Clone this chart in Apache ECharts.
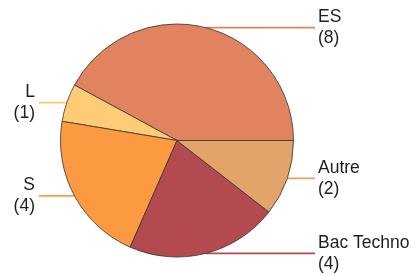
<!DOCTYPE html>
<html>
<head>
    <meta charset="utf-8">
    <title>Pie</title>
    <script src="https://cdn.jsdelivr.net/npm/echarts@6/dist/echarts.min.js"></script>
    <style>
        html, body { margin: 0; padding: 0; background: #fff; }
        #chart1 { width: 416px; height: 275px; }
    </style>
</head>
<body>
<div id="chart1"></div>
<script>
    // données
    var categories = ['ES', 'L', 'S', 'Bac Techno', 'Autre'];
    var counts = [8, 1, 4, 4, 2];
    var colors = ['#E0835E', '#FECC76', '#FC9A42', '#B24A4F', '#E2A468'];

    var cx = 177, cy = 140.5;
    // bout des traits de légende, à gauche et à droite
    var lineLeftX = 39, lineRightX = 315;

    var pieData = categories.map(function (name, i) {
        return {
            name: name,
            value: counts[i],
            itemStyle: { color: colors[i] },
            labelLine: { lineStyle: { color: colors[i] } }
        };
    });

    var chart = echarts.init(document.getElementById('chart1'));
    chart.setOption({
        animation: false,
        series: [{
            type: 'pie',
            center: [cx, cy],
            radius: 116.5,
            startAngle: 0,
            clockwise: false,
            avoidLabelOverlap: false,
            data: pieData,
            itemStyle: {
                borderColor: '#333',
                borderWidth: 0.8
            },
            label: {
                show: true,
                position: 'outside',
                formatter: '{b}\n({c})',
                fontFamily: 'Liberation Sans, Arial, sans-serif',
                fontSize: 17.5,
                lineHeight: 21,
                color: '#1e1e1e'
            },
            labelLine: {
                show: true,
                length: 0,
                length2: 20,
                smooth: false,
                lineStyle: { width: 1.8 }
            },
            labelLayout: function (params) {
                var p0 = params.labelLinePoints[0];
                var right = p0[0] > cx;
                var endX = right ? lineRightX : lineLeftX;
                return {
                    x: right ? endX + 3 : endX - 4,
                    y: p0[1],
                    align: right ? 'left' : 'right',
                    verticalAlign: 'middle',
                    labelLinePoints: [p0, p0, [endX, p0[1]]]
                };
            },
            emphasis: { disabled: true }
        }]
    });
</script>
</body>
</html>
